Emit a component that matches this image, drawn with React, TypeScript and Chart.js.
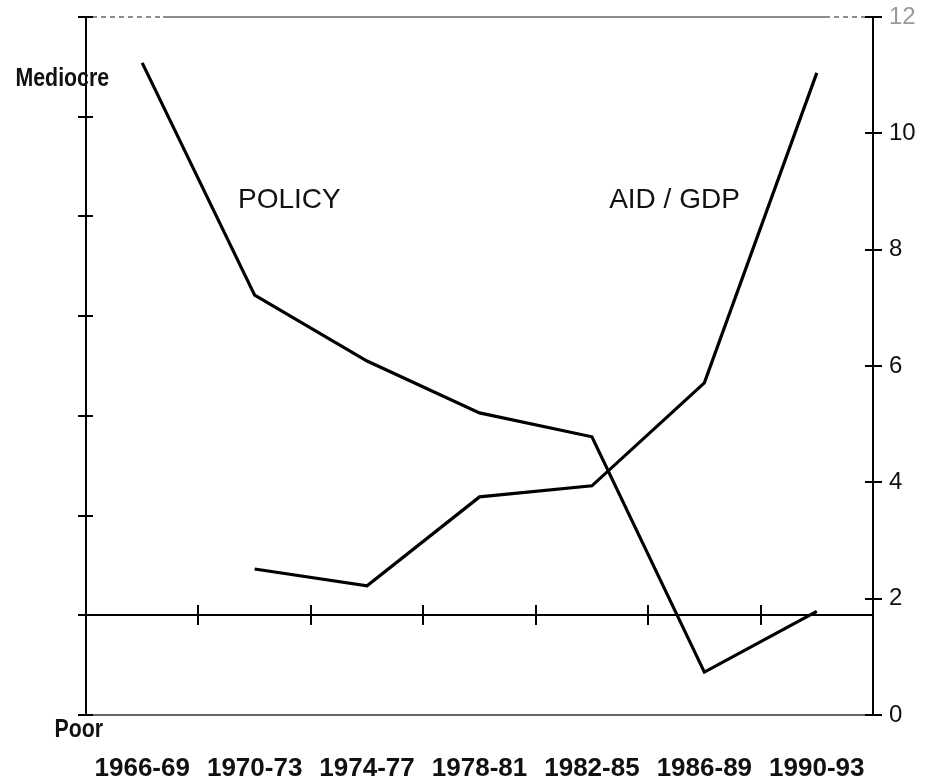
import React, { useEffect, useRef } from 'react';
import { Chart, registerables } from 'chart.js';

Chart.register(...registerables);

// ---- data ----
const categories = ['1966-69', '1970-73', '1974-77', '1978-81', '1982-85', '1986-89', '1990-93'];
// Policy index on left scale (0 = Poor ... higher = better)
const policyValues = [6.54, 4.21, 3.55, 3.03, 2.79, 0.43, 1.04];
// Aid as % of GDP on right scale
const aidGdpValues: (number | null)[] = [null, 2.51, 2.22, 3.75, 3.94, 5.71, 11.04];
const policyAxisMin = 0;
const policyAxisMax = 7;
const policyAxisStep = 1;
const aidAxisMin = 0;
const aidAxisMax = 12;
const aidAxisStep = 2;
const policyLowLabel = 'Poor';
const policyHighLabel = 'Mediocre';
const policyHighLabelValue = 6.31;
const policyBaseValue = 1;
const seriesNames = ['POLICY', 'AID / GDP'];
// where the series names sit: [category position, policy-scale value]
const seriesNamePositions = [[0.852, 5.08], [4.153, 5.08]];

const FONT = '"Liberation Sans", Arial, Helvetica, sans-serif';

const framePlugin = {
  id: 'frame',
  beforeDatasetsDraw(chart: any) {
    const { ctx, chartArea: a, scales } = chart;
    const x = scales.x, yL = scales.yL, yR = scales.yR;
    const line = (x1: number, y1: number, x2: number, y2: number) => {
      ctx.beginPath();
      ctx.moveTo(x1, y1);
      ctx.lineTo(x2, y2);
      ctx.stroke();
    };
    ctx.save();
    // top grey frame line
    ctx.strokeStyle = '#8c8c8c';
    ctx.lineWidth = 2;
    ctx.setLineDash([5, 4]);
    line(a.left + 6, a.top, a.left + 77, a.top);
    line(a.right - 48, a.top, a.right, a.top);
    ctx.setLineDash([]);
    line(a.left + 77, a.top, a.right - 48, a.top);

    ctx.strokeStyle = '#000';
    ctx.lineWidth = 2;
    // left axis tick marks (crossing)
    yL.ticks.forEach((t: any) => {
      const py = Math.round(yL.getPixelForValue(t.value));
      line(a.left - 8, py, a.left + 7, py);
    });
    // right axis tick marks (crossing)
    yR.ticks.forEach((t: any) => {
      const py = Math.round(yR.getPixelForValue(t.value));
      line(a.right - 8, py, a.right + 9, py);
    });
    // horizontal base line with category-boundary ticks
    const by = Math.round(yL.getPixelForValue(policyBaseValue));
    line(a.left - 8, by, a.right, by);
    for (let i = 1; i < categories.length; i++) {
      const px = Math.round(x.getPixelForValue(i - 0.5));
      line(px, by - 10, px, by + 10);
    }
    ctx.restore();
  },
  afterDraw(chart: any) {
    const { ctx, chartArea: a, scales } = chart;
    const x = scales.x, yL = scales.yL;
    ctx.save();
    ctx.fillStyle = '#111';
    ctx.textBaseline = 'alphabetic';
    ctx.textAlign = 'left';
    ctx.font = `28px ${FONT}`;
    seriesNames.forEach((name, i) => {
      const [cx, vy] = seriesNamePositions[i];
      ctx.fillText(name, x.getPixelForValue(cx), yL.getPixelForValue(vy));
    });
    // narrow bold scale labels
    const narrow = (text: string, px: number, py: number) => {
      ctx.save();
      ctx.translate(px, py);
      ctx.scale(0.82, 1);
      ctx.font = `bold 26px ${FONT}`;
      ctx.fillText(text, 0, 0);
      ctx.restore();
    };
    narrow(policyHighLabel, a.left - 70.5, yL.getPixelForValue(policyHighLabelValue));
    narrow(policyLowLabel, a.left - 31.5, a.bottom + 22);
    ctx.restore();
  },
};

export default function App() {
  const ref = useRef<HTMLCanvasElement>(null);
  useEffect(() => {
    if (!ref.current) return;
    const chart = new Chart(ref.current, {
      type: 'line',
      data: {
        labels: categories,
        datasets: [
          {
            label: seriesNames[0],
            data: policyValues,
            yAxisID: 'yL',
            borderColor: '#000',
            borderWidth: 3.2,
            pointRadius: 0,
            tension: 0,
            borderJoinStyle: 'miter',
            fill: false,
          },
          {
            label: seriesNames[1],
            data: aidGdpValues,
            yAxisID: 'yR',
            borderColor: '#000',
            borderWidth: 3.2,
            pointRadius: 0,
            tension: 0,
            borderJoinStyle: 'miter',
            fill: false,
          },
        ],
      },
      options: {
        animation: false,
        responsive: true,
        maintainAspectRatio: false,
        layout: { padding: { top: 17, left: 0, right: 0, bottom: 0 } },
        plugins: {
          legend: { display: false },
          tooltip: { enabled: false },
        },
        scales: {
          x: {
            type: 'category',
            position: 'bottom',
            offset: true,
            grid: { display: false, drawTicks: false },
            border: { display: true, color: '#666', width: 2 },
            ticks: {
              autoSkip: false,
              maxRotation: 0,
              padding: 38,
              color: '#111',
              font: { family: FONT, size: 26, weight: 'bold' },
            },
            afterFit: (s: any) => { s.height = 62; s.paddingLeft = 0; s.paddingRight = 0; },
          },
          yL: {
            type: 'linear',
            position: 'left',
            min: policyAxisMin,
            max: policyAxisMax,
            ticks: { stepSize: policyAxisStep, display: false },
            grid: { display: false, drawTicks: false },
            border: { display: true, color: '#000', width: 2 },
            afterFit: (s: any) => { s.width = 86; s.paddingTop = 0; s.paddingBottom = 0; },
          },
          yR: {
            type: 'linear',
            position: 'right',
            min: aidAxisMin,
            max: aidAxisMax,
            ticks: {
              stepSize: aidAxisStep,
              padding: 16,
              color: (c: any) => (c.tick && c.tick.value === aidAxisMax ? '#9a9a9a' : '#111'),
              font: { family: FONT, size: 24 },
            },
            grid: { display: false, drawTicks: false },
            border: { display: true, color: '#000', width: 2 },
            afterFit: (s: any) => { s.width = 55; s.paddingTop = 0; s.paddingBottom = 0; },
          },
        },
      },
      plugins: [framePlugin],
    } as any);
    return () => chart.destroy();
  }, []);
  return (
    <div style={{ position: 'absolute', left: 0, top: 0, width: 928, height: 777, background: '#fff' }}>
      <canvas ref={ref} />
    </div>
  );
}
